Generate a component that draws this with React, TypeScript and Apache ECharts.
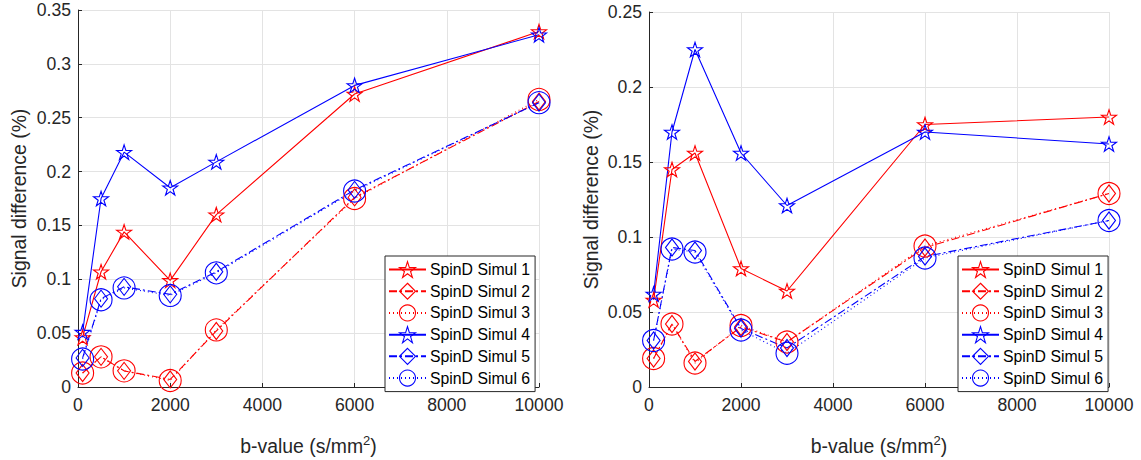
import React, { useEffect, useRef } from "react";
import * as echarts from "echarts";

const bValues = [100, 500, 1000, 2000, 3000, 6000, 10000];
const seriesNames = [
  "SpinD Simul 1",
  "SpinD Simul 2",
  "SpinD Simul 3",
  "SpinD Simul 4",
  "SpinD Simul 5",
  "SpinD Simul 6",
];

// Left panel
const leftSim1 = [0.046, 0.107, 0.144, 0.099, 0.16, 0.272, 0.33];
const leftSim2 = [0.013, 0.028, 0.015, 0.007, 0.052, 0.176, 0.265];
const leftSim3 = [0.013, 0.028, 0.015, 0.006, 0.053, 0.175, 0.267];
const leftSim4 = [0.051, 0.175, 0.218, 0.185, 0.209, 0.28, 0.327];
const leftSim5 = [0.027, 0.082, 0.093, 0.086, 0.107, 0.183, 0.264];
const leftSim6 = [0.026, 0.081, 0.092, 0.085, 0.106, 0.182, 0.264];

// Right panel
const rightSim1 = [0.058, 0.145, 0.156, 0.079, 0.064, 0.175, 0.18];
const rightSim2 = [0.019, 0.042, 0.017, 0.04, 0.03, 0.093, 0.129];
const rightSim3 = [0.019, 0.042, 0.016, 0.041, 0.03, 0.094, 0.129];
const rightSim4 = [0.062, 0.17, 0.225, 0.156, 0.121, 0.17, 0.162];
const rightSim5 = [0.031, 0.093, 0.091, 0.039, 0.026, 0.087, 0.111];
const rightSim6 = [0.031, 0.092, 0.09, 0.038, 0.0225, 0.086, 0.111];

const RED = "#ff0000";
const BLUE = "#0000ff";
const AXIS = "#262626";
const FONT = "Liberation Sans, Arial, sans-serif";

const STAR =
  "path://M0,-10L2.245,-3.09L9.51,-3.09L3.633,1.18L5.878,8.09L0,3.82L-5.878,8.09L-3.633,1.18L-9.51,-3.09L-2.245,-3.09Z";

const styles = [
  { color: RED, symbol: STAR, size: [15, 14.5], dash: "solid" as any },
  { color: RED, symbol: "diamond", size: [13, 17], dash: [8, 3, 2, 3] },
  { color: RED, symbol: "circle", size: 22, dash: [1, 3] },
  { color: BLUE, symbol: STAR, size: [15, 14.5], dash: "solid" as any },
  { color: BLUE, symbol: "diamond", size: [13, 17], dash: [8, 3, 2, 3] },
  { color: BLUE, symbol: "circle", size: 22, dash: [1, 3] },
];

function makeSeries(arrays: number[][], axisIndex: number) {
  return arrays.map((arr, i) => {
    const s = styles[i];
    return {
      name: seriesNames[i],
      type: "line",
      xAxisIndex: axisIndex,
      yAxisIndex: axisIndex,
      data: bValues.map((b, j) => [b, arr[j]]),
      symbol: s.symbol,
      symbolSize: s.size,
      showAllSymbol: true,
      lineStyle: { color: s.color, width: 1.1, type: s.dash },
      itemStyle: { color: "rgba(0,0,0,0)", borderColor: s.color, borderWidth: 1.1 },
      emphasis: { disabled: true },
      z: 2,
    };
  });
}

function xAxis(gridIndex: number) {
  return {
    type: "value",
    gridIndex,
    min: 0,
    max: 10000,
    interval: 2000,
    name: "{a|b-value (s/mm}{s|2}{a|)}",
    nameLocation: "middle",
    nameGap: 47,
    nameTextStyle: {
      rich: {
        a: { fontSize: 19.4, color: AXIS, fontFamily: FONT },
        s: { fontSize: 13, color: AXIS, fontFamily: FONT, verticalAlign: "top", padding: [0, 0, 10, 0] },
      },
    },
    axisLine: { show: true, lineStyle: { color: AXIS, width: 1 } },
    axisTick: { show: true, inside: true, length: 4, lineStyle: { color: AXIS } },
    axisLabel: {
      color: AXIS,
      fontSize: 17.6,
      fontFamily: FONT,
      margin: 9,
      formatter: (v: number) => String(v),
    },
    splitLine: { show: true, lineStyle: { color: "#e3e3e3", width: 1 } },
  };
}

function yAxis(gridIndex: number, max: number, gap: number) {
  return {
    type: "value",
    gridIndex,
    min: 0,
    max,
    interval: 0.05,
    name: "Signal difference (%)",
    nameLocation: "middle",
    nameRotate: 90,
    nameGap: gap,
    nameTextStyle: { fontSize: 19.4, color: AXIS, fontFamily: FONT },
    axisLine: { show: true, lineStyle: { color: AXIS, width: 1 } },
    axisTick: { show: true, inside: true, length: 4, lineStyle: { color: AXIS } },
    axisLabel: { color: AXIS, fontSize: 17.6, fontFamily: FONT, margin: 7 },
    splitLine: { show: true, lineStyle: { color: "#e3e3e3", width: 1 } },
  };
}

function legend(left: number) {
  return {
    orient: "vertical",
    left,
    top: 256,
    padding: [5, 5, 5, 3],
    itemWidth: 37,
    itemHeight: 20,
    itemGap: 4.6,
    backgroundColor: "#ffffff",
    borderColor: AXIS,
    borderWidth: 1,
    borderRadius: 0,
    selectedMode: false,
    itemStyle: { color: "rgba(0,0,0,0)", borderWidth: 1.1 },
    textStyle: { color: "#000000", fontSize: 15.8, fontFamily: FONT, padding: [0, 0, 0, -1] },
    data: seriesNames,
    z: 10,
  };
}

export default function App() {
  const ref = useRef<HTMLDivElement>(null);
  useEffect(() => {
    document.body.style.margin = "0";
    if (!ref.current) return;
    const chart = echarts.init(ref.current, undefined, { renderer: "svg" });
    chart.setOption({
      animation: false,
      backgroundColor: "#ffffff",
      grid: [
        { left: 78, top: 10, width: 461, height: 379 },
        { left: 649, top: 12, width: 460, height: 377 },
      ],
      xAxis: [xAxis(0), xAxis(1)],
      yAxis: [yAxis(0, 0.35, 50), yAxis(1, 0.25, 49)],
      legend: [legend(385), legend(958)],
      series: [
        ...makeSeries([leftSim1, leftSim2, leftSim3, leftSim4, leftSim5, leftSim6], 0),
        ...makeSeries([rightSim1, rightSim2, rightSim3, rightSim4, rightSim5, rightSim6], 1),
      ],
    });
    return () => chart.dispose();
  }, []);
  return <div ref={ref} style={{ width: 1141, height: 460 }} />;
}
